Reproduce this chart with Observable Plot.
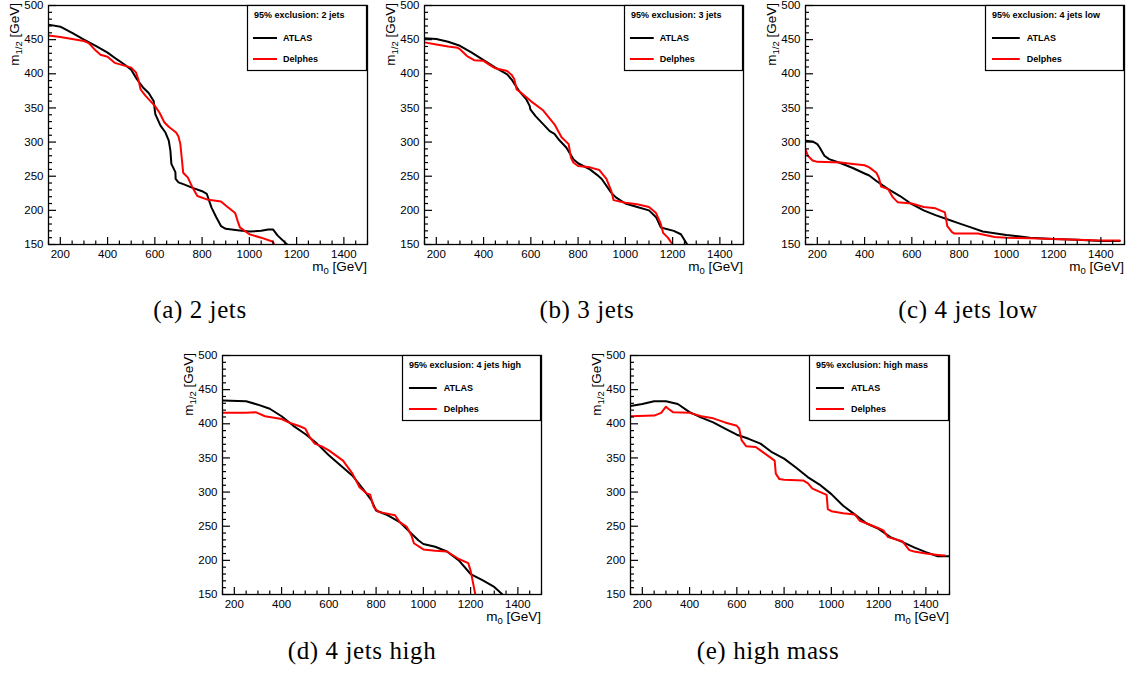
<!DOCTYPE html>
<html><head><meta charset="utf-8">
<script src="https://cdn.jsdelivr.net/npm/d3@7"></script>
<script src="https://cdn.jsdelivr.net/npm/@observablehq/plot@0.6"></script>
<style>
html,body{margin:0;padding:0;background:#fff}
body{width:1130px;height:679px;position:relative;overflow:hidden;font-family:"Liberation Sans",Arial,sans-serif}
.panel{position:absolute}
.cap{position:absolute;font-family:"Liberation Serif","DejaVu Serif",serif;font-size:25px;line-height:1;transform:translateX(-50%);white-space:nowrap;letter-spacing:0.6px;color:#000}
</style></head><body>
<script>
// ---- data: [m0, m1/2] in GeV ----
const atlas2j = [[150,472],[200,469],[250,460],[300,450],[350,441],[400,431],[440,421],[470,414],[500,406],[524,392],[550,380],[574,372],[595,360],[602,341],[624,324],[645,314],[659,302],[666,287],[670,268],[687,256],[688,246],[700,241],[723,238],[760,233],[800,228],[820,224],[840,204],[860,190],[880,177],[900,173],[950,171],[1000,169],[1050,170],[1080,172],[1100,172],[1120,163],[1160,150]];
const delphes2j = [[150,456],[200,454],[250,451],[300,448],[320,445],[350,434],[370,428],[400,425],[430,416],[460,413],[500,409],[520,402],[530,392],[540,377],[560,368],[600,353],[620,343],[640,329],[660,322],[690,314],[700,308],[708,297],[715,273],[720,255],[740,248],[760,233],[780,221],[820,216],[880,213],[900,207],[940,196],[950,185],[960,175],[1000,165],[1050,160],[1100,154],[1105,150]];
const atlas3j = [[150,452],[200,451],[250,447],[300,441],[350,431],[400,420],[450,409],[500,399],[520,391],[550,375],[580,363],[595,353],[598,348],[620,338],[650,327],[680,316],[700,312],[720,303],[750,292],[780,275],[800,269],[850,260],[880,252],[900,246],[940,226],[960,219],[1000,210],[1050,205],[1100,200],[1130,190],[1150,175],[1205,170],[1235,165],[1262,150]];
const delphes3j = [[150,446],[200,443],[250,440],[290,438],[300,436],[330,426],[360,420],[400,419],[430,412],[450,408],[500,404],[520,398],[530,392],[540,377],[560,372],[600,360],[650,347],[700,326],[730,307],[760,297],[770,277],[780,270],[800,265],[850,263],[890,259],[920,246],[940,229],[950,215],[1000,211],[1050,209],[1100,205],[1130,196],[1150,180],[1160,167],[1180,160],[1200,150]];
const atlas4jl = [[150,302],[180,301],[200,297],[210,292],[230,280],[250,275],[300,269],[350,262],[400,254],[420,251],[450,243],[500,231],[550,221],[600,209],[650,200],[700,193],[750,187],[800,181],[850,175],[900,169],[1000,164],[1100,160],[1200,158],[1300,157],[1400,155],[1480,155]];
const delphes4jl = [[150,289],[160,280],[180,273],[200,271],[300,270],[350,268],[400,266],[420,263],[450,255],[460,248],[470,235],[500,231],[520,219],[540,212],[600,210],[650,205],[700,203],[740,197],[750,177],[770,168],[780,166],[880,166],[950,161],[1000,160],[1100,159],[1200,158],[1300,157],[1400,156],[1480,156]];
const atlas4jh = [[150,434],[250,433],[300,428],[350,422],[400,411],[450,397],[500,385],[550,371],[600,354],[650,339],[700,324],[750,302],[780,288],[800,273],[850,266],[900,256],[950,239],[980,229],[1000,224],[1050,220],[1100,213],[1150,200],[1200,180],[1250,171],[1300,161],[1335,150]];
const delphes4jh = [[150,416],[250,416],[290,417],[330,411],[400,407],[430,402],[480,396],[500,393],[520,380],[540,371],[570,367],[600,361],[660,346],[700,327],[730,307],[760,298],[775,296],[790,278],[810,271],[880,266],[900,256],[930,249],[950,236],[960,225],[1000,216],[1050,214],[1100,213],[1150,202],[1190,196],[1200,185],[1220,150]];
const atlasHM = [[150,426],[200,429],[250,433],[300,433],[350,429],[400,417],[450,409],[500,402],[550,393],[600,384],[650,378],[700,371],[750,358],[800,349],[850,336],[900,322],[950,311],[1000,297],[1050,280],[1100,267],[1150,254],[1200,246],[1250,234],[1300,227],[1350,219],[1400,212],[1450,206],[1500,206]];
const delphesHM = [[150,411],[250,412],[280,416],[300,425],[310,422],[330,417],[400,416],[450,411],[500,408],[550,402],[600,397],[610,393],[620,376],[640,367],[680,366],[700,361],[760,346],[765,327],[780,319],[800,318],[880,317],[900,313],[920,305],[980,296],[985,275],[1000,272],[1050,269],[1100,267],[1120,258],[1150,254],[1200,247],[1220,244],[1240,234],[1300,228],[1330,215],[1350,213],[1400,210],[1450,208],[1480,207]];

const titles = ["95% exclusion: 2 jets","95% exclusion: 3 jets","95% exclusion: 4 jets low","95% exclusion: 4 jets high","95% exclusion: high mass"];
const captions = ["(a) 2 jets","(b) 3 jets","(c) 4 jets low","(d) 4 jets high","(e) high mass"];
const seriesNames = ["ATLAS","Delphes"];
const xTicks = [200,400,600,800,1000,1200,1400];
const yTicks = [150,200,250,300,350,400,450,500];
const xDomain = [150,1500];
const yDomain = [150,500];

// ---- layout ----
const ML=48, MT=5, MR=6, MB=36, FW=319, FH=239;
const panels = [
  {atlas: atlas2j, delphes: delphes2j, left: 0, top: 0, legW: 120, cap: [200, 297]},
  {atlas: atlas3j, delphes: delphes3j, left: 376, top: 0, legW: 119, cap: [587, 297]},
  {atlas: atlas4jl, delphes: delphes4jl, left: 757, top: 0, legW: 139, cap: [968, 297]},
  {atlas: atlas4jh, delphes: delphes4jh, left: 174, top: 350, legW: 139, cap: [362, 638]},
  {atlas: atlasHM, delphes: delphesHM, left: 582, top: 350, legW: 140, cap: [768, 638]}
];
const xMinor = d3.range(150, 1501, 50).filter(v => v % 200 !== 0);
const yMinor = d3.range(150, 501, 10).filter(v => v % 50 !== 0);
const colors = ["#000000", "#ff0000"];
const FONT = '"Liberation Sans", Arial, sans-serif';
// tick lengths converted from pixels into data units of each axis
const gevPerPxX = (xDomain[1] - xDomain[0]) / FW, gevPerPxY = (yDomain[1] - yDomain[0]) / FH;

panels.forEach((p, i) => {
  const svg = Plot.plot({
    width: ML + FW + MR, height: MT + FH + MB,
    marginLeft: ML, marginTop: MT, marginRight: MR, marginBottom: MB,
    style: {fontFamily: FONT, fontSize: "11.5px", color: "#000", background: "transparent", overflow: "visible"},
    x: {domain: xDomain},
    y: {domain: yDomain},
    marks: [
      Plot.line(p.atlas, {x: d => d[0], y: d => d[1], stroke: colors[0], strokeWidth: 2, clip: true}),
      Plot.line(p.delphes, {x: d => d[0], y: d => d[1], stroke: colors[1], strokeWidth: 2, clip: true}),
      Plot.ruleX(xTicks, {x: d => d, y1: yDomain[0], y2: yDomain[0] + 7 * gevPerPxY, stroke: "#000", strokeWidth: 1.2}),
      Plot.ruleX(xMinor, {x: d => d, y1: yDomain[0], y2: yDomain[0] + 3.5 * gevPerPxY, stroke: "#000", strokeWidth: 1.2}),
      Plot.ruleY(yTicks, {y: d => d, x1: xDomain[0], x2: xDomain[0] + 8 * gevPerPxX, stroke: "#000", strokeWidth: 1.2}),
      Plot.ruleY(yMinor, {y: d => d, x1: xDomain[0], x2: xDomain[0] + 4 * gevPerPxX, stroke: "#000", strokeWidth: 1.2}),
      Plot.axisX(xTicks, {anchor: "bottom", tickSize: 0, tickPadding: 5, tickFormat: d => String(d), label: null}),
      Plot.axisY(yTicks, {anchor: "left", tickSize: 0, tickPadding: 5, tickFormat: d => String(d), label: null}),
      Plot.frame({stroke: "#000", strokeWidth: 1.3})
    ]
  });
  const s = d3.select(svg);
  // legend
  const W = p.legW, H = 65;
  const lx = ML + FW - W, ly = MT;
  const g = s.append("g").attr("font-family", FONT).attr("font-weight", "bold").attr("font-size", 9).attr("text-anchor", "start").attr("fill", "#000");
  g.append("rect").attr("x", lx + 0.5).attr("y", ly + 0.5).attr("width", W - 1).attr("height", H).attr("fill", "#fff").attr("stroke", "#000").attr("stroke-width", 1.2);
  g.append("text").attr("x", lx + 7).attr("y", ly + 10).attr("dy", "0.35em").text(titles[i]);
  seriesNames.forEach((name, j) => {
    const yy = ly + 33 + j * 21;
    g.append("line").attr("x1", lx + 0.05 * W).attr("x2", lx + 0.25 * W).attr("y1", yy).attr("y2", yy).attr("stroke", colors[j]).attr("stroke-width", 2);
    g.append("text").attr("x", lx + 0.30 * W).attr("y", yy).attr("dy", "0.35em").text(name);
  });
  // axis titles
  const tx = s.append("text").attr("x", ML + FW).attr("y", 271).attr("text-anchor", "end")
    .attr("font-family", FONT).attr("font-size", 13.5).attr("fill", "#000");
  tx.append("tspan").text("m");
  tx.append("tspan").attr("font-size", 9.5).attr("dy", 3).text("0");
  tx.append("tspan").attr("dy", -3).text(" [GeV]");
  const ty = s.append("text").attr("transform", "rotate(-90)").attr("x", -3).attr("y", 19).attr("text-anchor", "end")
    .attr("font-family", FONT).attr("font-size", 13.5).attr("fill", "#000");
  ty.append("tspan").text("m");
  ty.append("tspan").attr("font-size", 9.5).attr("dy", 3).text("1/2");
  ty.append("tspan").attr("dy", -3).text(" [GeV]");

  const div = document.createElement("div");
  div.className = "panel";
  div.style.left = p.left + "px";
  div.style.top = p.top + "px";
  div.appendChild(svg);
  document.body.appendChild(div);

  const cap = document.createElement("div");
  cap.className = "cap";
  cap.style.left = p.cap[0] + "px";
  cap.style.top = p.cap[1] + "px";
  cap.textContent = captions[i];
  document.body.appendChild(cap);
});
</script>
</body></html>
